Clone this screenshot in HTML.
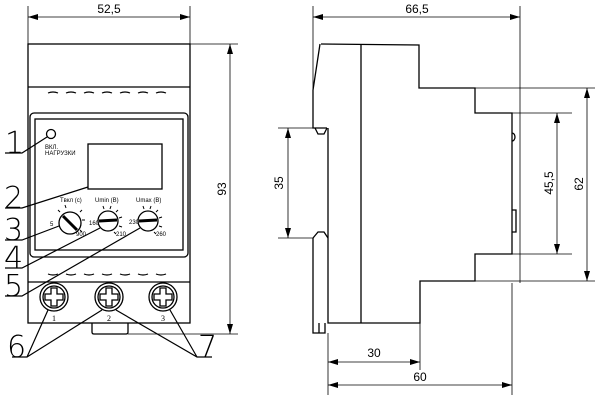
<!DOCTYPE html>
<html><head><meta charset="utf-8"><style>body{margin:0;background:#fff}svg{display:block}</style></head><body>
<svg width="600" height="409" viewBox="0 0 600 409" xmlns="http://www.w3.org/2000/svg" font-family="Liberation Sans, DejaVu Sans, sans-serif">
<defs><marker id="a" viewBox="0 0 10 6" refX="10" refY="3" markerWidth="10" markerHeight="6" orient="auto-start-reverse" markerUnits="userSpaceOnUse"><path d="M0,0L10,3L0,6z" fill="#000"/></marker></defs>
<g stroke="#000" fill="none" stroke-width="1.3">
<rect x="28" y="44" width="162" height="279"/>
<line x1="28" y1="87" x2="190" y2="87"/>
<rect x="30" y="113" width="158" height="144" rx="4"/>
<rect x="35" y="119" width="148" height="131"/>
<line x1="28" y1="282" x2="190" y2="282"/>
<g stroke-width="1.2"><path d="M48,93q5,-2 10,0M66,93q5,-2 10,0M84,93q5,-2 10,0M102,93q5,-2 10,0M120,93q5,-2 10,0M138,93q5,-2 10,0M156,93q5,-2 10,0"/>
<path d="M48,274q5,2 10,0M66,274q5,2 10,0M84,274q5,2 10,0M102,274q5,2 10,0M120,274q5,2 10,0M138,274q5,2 10,0M156,274q5,2 10,0"/></g>
<path d="M92,323v9q0,2 2,2h32q2,0 2,-2v-9"/>
<circle cx="51" cy="134" r="4.5"/>
<rect x="88" y="144" width="74" height="45"/>
<circle cx="70" cy="223" r="11"/><circle cx="108" cy="221" r="10"/><circle cx="148" cy="221" r="10"/>
<g stroke-width="3"><line x1="63" y1="216" x2="77" y2="230"/><line x1="99" y1="221" x2="117" y2="220"/><line x1="139" y1="221" x2="157" y2="220"/></g>
<g stroke-width="1"><path d="M60,212l-2,-2M66,208l-1,-3M80,212l2,-2M82,220l3,0M80,230l2,2M104,209l-1,-3M110,209l1,-3M116,212l2,-2M119,218l3,-1M119,226l3,1M114,232l2,2M144,209l-1,-3M150,209l1,-3M156,212l2,-2M159,218l3,-1M159,226l3,1M154,232l2,2"/></g>
<g id="s"><circle cx="54" cy="297" r="14"/><circle cx="54" cy="297" r="11"/><path d="M51,288h6v6h6v6h-6v6h-6v-6h-6v-6h6z"/></g>
<use href="#s" x="55"/><use href="#s" x="109"/>
<g stroke-width="1.2">
<path d="M5,153H22L47,137"/><path d="M5,208H22L88,187"/><path d="M5,240H22L59,226"/><path d="M5,268H22L100,228"/><path d="M5,296H22L140,228"/>
<path d="M12,357H27L48,310M27,357L102,310"/><path d="M212,357H197L116,310M197,357L170,310"/>
</g>
<g stroke-width="0.8">
<line x1="28" y1="6" x2="28" y2="44"/><line x1="190" y1="6" x2="190" y2="44"/>
<line x1="28" y1="17" x2="190" y2="17" marker-start="url(#a)" marker-end="url(#a)"/>
<line x1="190" y1="44" x2="238" y2="44"/><line x1="128" y1="334" x2="238" y2="334"/>
<line x1="230" y1="44" x2="230" y2="334" marker-start="url(#a)" marker-end="url(#a)"/>
</g>
<path d="M321,44L419,45V88H475V113H512V254H475V281H420V323H328V238M328,128V238M320,44L313,90V128H327M313,238V323"/>
<line x1="361" y1="44" x2="361" y2="323"/>
<path d="M315,128l3,6h6l3,-6M313,238l5,-6h6l4,6"/>
<path d="M313,323v10h12v-10M319,323v10"/>
<path d="M512,133a3,4 0 0 1 0,8M512,210h4v22h-4"/>
<g stroke-width="0.8">
<line x1="313" y1="6" x2="313" y2="90"/><line x1="520" y1="6" x2="520" y2="283"/>
<line x1="313" y1="17" x2="520" y2="17" marker-start="url(#a)" marker-end="url(#a)"/>
<line x1="278" y1="128" x2="313" y2="128"/><line x1="278" y1="238" x2="313" y2="238"/>
<line x1="288" y1="128" x2="288" y2="238" marker-start="url(#a)" marker-end="url(#a)"/>
<line x1="475" y1="88" x2="595" y2="88"/><line x1="420" y1="281" x2="595" y2="281"/>
<line x1="587" y1="88" x2="587" y2="281" marker-start="url(#a)" marker-end="url(#a)"/>
<line x1="512" y1="113" x2="572" y2="113"/><line x1="512" y1="254" x2="572" y2="254"/>
<line x1="557" y1="113" x2="557" y2="254" marker-start="url(#a)" marker-end="url(#a)"/>
<line x1="328" y1="333" x2="328" y2="395"/><line x1="420" y1="323" x2="420" y2="370"/><line x1="512" y1="283" x2="512" y2="395"/>
<line x1="328" y1="362" x2="420" y2="362" marker-start="url(#a)" marker-end="url(#a)"/>
<line x1="328" y1="385" x2="512" y2="385" marker-start="url(#a)" marker-end="url(#a)"/>
</g>
</g>
<g font-size="12" fill="#000" text-anchor="middle">
<text x="109" y="13">52,5</text><text x="417" y="13">66,5</text>
<text x="374" y="357">30</text><text x="420" y="381">60</text>
<text transform="translate(226,189) rotate(-90)">93</text>
<text transform="translate(283,183) rotate(-90)">35</text>
<text transform="translate(553,183) rotate(-90)">45,5</text>
<text transform="translate(583,184) rotate(-90)">62</text>
</g>
<g font-size="6" fill="#000">
<text x="45" y="149">ВКЛ.</text><text x="45" y="155">НАГРУЗКИ</text>
<text x="60" y="202">Tвкл (с)</text><text x="95" y="202">Umin (B)</text><text x="136" y="202">Umax (B)</text>
<text x="50" y="226">5</text><text x="76" y="236">900</text>
<text x="89" y="225">160</text><text x="116" y="236">210</text>
<text x="129" y="224">230</text><text x="156" y="236">260</text>
</g>
<g font-size="8" fill="#000" font-family="Liberation Serif, serif" text-anchor="middle"><text x="54" y="321">1</text><text x="109" y="321">2</text><text x="163" y="321">3</text></g>
<g font-size="30" fill="#000" font-family="DejaVu Sans, sans-serif" font-weight="200">
<text x="5" y="153">1</text><text x="4" y="208">2</text><text x="4" y="240">3</text><text x="4" y="268">4</text><text x="4" y="296">5</text>
<text x="7" y="357">6</text><text x="198" y="357">7</text>
</g>
</svg>
</body></html>
